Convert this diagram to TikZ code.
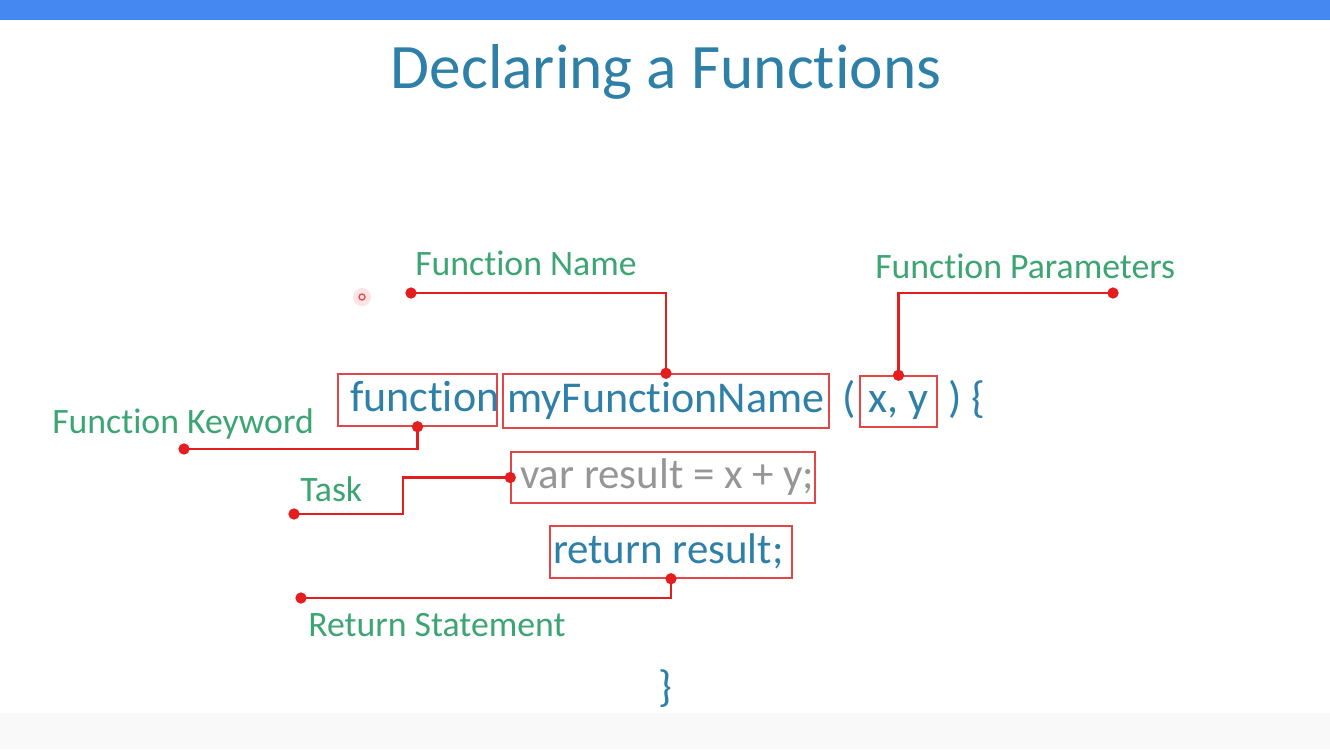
\documentclass[tikz,border=0pt]{standalone}
\usepackage{fontspec}
\setmainfont{Carlito}[Ligatures=NoCommon]
\definecolor{topbar}{RGB}{70,136,241}
\definecolor{bottomgray}{RGB}{249,249,249}
\definecolor{codeblue}{RGB}{46,128,168}
\definecolor{labelgreen}{RGB}{60,165,115}
\definecolor{linkred}{RGB}{228,30,30}
\definecolor{boxred}{RGB}{226,70,70}
\definecolor{codegray}{RGB}{150,150,150}
\tikzset{
  codefont/.style={font=\fontsize{33}{40}\selectfont, text height=24pt, text depth=7pt},
  codefontb/.style={font=\fontsize{32.2}{39}\selectfont, text height=24pt, text depth=7pt},
  codebox/.style={draw=boxred, line width=1.1pt, inner sep=0pt, text=codeblue, codefont},
  codetext/.style={inner sep=0pt, text=codeblue, codefont},
  lbl/.style={inner sep=0pt, text=labelgreen, font=\fontsize{26.8}{32}\selectfont},
  link/.style={draw=linkred, line width=1.9pt},
  dot/.style={fill=linkred, circle, inner sep=0pt, minimum size=8.5pt},
}
\begin{document}
\begin{tikzpicture}[x=0.75pt,y=-0.75pt]
\useasboundingbox (0,0) rectangle (1330,749);
\fill[white] (0,0) rectangle (1330,749);
\fill[topbar] (0,0) rectangle (1330,20);
\fill[bottomgray] (0,713) rectangle (1330,749);
\node[inner sep=0pt, text=codeblue, font=\fontsize{47.5}{56}\selectfont] (title) at (666,72) {Declaring a Functions};

% code boxes
\node[codebox, minimum width=159*0.75pt, minimum height=52*0.75pt] (fn) at (417.5,400) {\makebox[119.25pt][l]{\hspace*{9pt}function}};
\node[codebox, minimum width=326*0.75pt, minimum height=54*0.75pt] (mfn) at (666,401) {myFunctionName};
\node[codetext] (lp) at (849,401) {(};
\node[codebox, minimum width=77*0.75pt, minimum height=51*0.75pt] (xy) at (898.5,401.5) {x, y};
\node[codetext] (rp) at (967,401) {) \{};
\node[codebox, codefontb, text=codegray, minimum width=304*0.75pt, minimum height=51*0.75pt] (var) at (663,477.5) {\makebox[228pt][l]{\hspace*{6.75pt}var result = x + y;}};
\node[codebox, codefontb, minimum width=242*0.75pt, minimum height=52*0.75pt] (ret) at (671,552) {\makebox[181.5pt][l]{\hspace*{2.25pt}return result;}};
\node[codetext] (rb) at (665,690) {\}};

% labels
\node[lbl, anchor=west] (lname) at (415,263) {Function Name};
\node[lbl, anchor=west] (lparam) at (875,266) {Function Parameters};
\node[lbl, anchor=west] (lkey) at (52,424) {Function Keyword};
\node[lbl, anchor=west] (ltask) at (300,489) {Task};
\node[lbl, anchor=west] (lret) at (308,625) {Return Statement};

% free ends
\coordinate (ename) at (411,293);
\coordinate (eparam) at (1113,293);
\coordinate (ekey) at (184,449);
\coordinate (etask) at (294,514);
\coordinate (eret) at (301,598);

% connectors
\draw[link] (ename) -| (mfn.north);
\draw[link] (eparam) -| (xy.north);
\draw[link] (fn.south) |- (ekey);
\draw[link] (var.west) -- (403,477.5) |- (etask);
\draw[link] (ret.south) |- (eret);

\foreach \p in {ename, eparam, ekey, etask, eret, mfn.north, xy.north, fn.south, var.west, ret.south}
  \node[dot] at (\p) {};

% cursor highlight
\fill[linkred!12] (362,297) circle (9);
\draw[linkred!80, line width=1pt] (362,297) circle (3);
\end{tikzpicture}
\end{document}
